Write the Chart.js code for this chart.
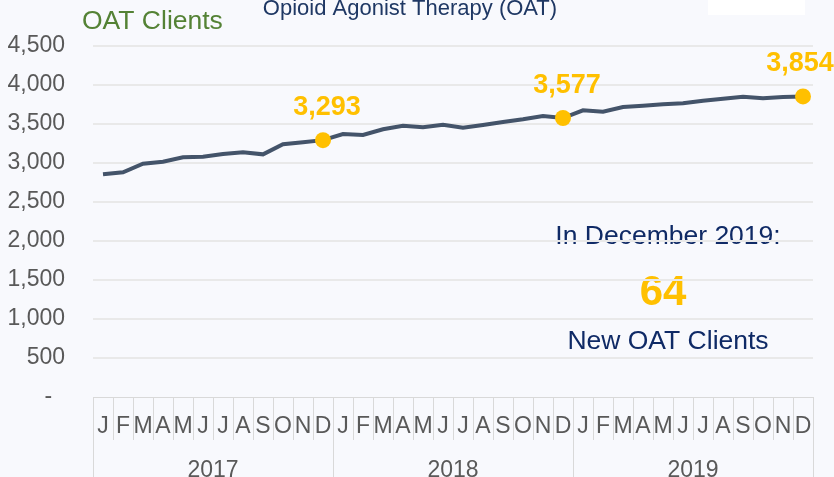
<!DOCTYPE html>
<html>
<head>
<meta charset="utf-8">
<script src="https://cdn.jsdelivr.net/npm/chart.js@4/dist/chart.umd.min.js"></script>
<style>
  html, body { margin: 0; padding: 0; background: #F8F9FD; }
  canvas { display: block; }
</style>
</head>
<body>
<canvas id="oatChart" width="834" height="477"></canvas>
<script>
const years = ['2017', '2018', '2019'];
const months = ['J', 'F', 'M', 'A', 'M', 'J', 'J', 'A', 'S', 'O', 'N', 'D'];
const oatClients = [
  2855, 2881, 2991, 3017, 3073, 3081, 3115, 3137, 3111, 3240, 3265, 3293,
  3372, 3359, 3432, 3478, 3458, 3491, 3452, 3487, 3526, 3560, 3602, 3577,
  3676, 3658, 3718, 3734, 3752, 3765, 3799, 3824, 3850, 3829, 3846, 3854,
];
const highlighted = [11, 23, 35];
const yTicks = [0, 500, 1000, 1500, 2000, 2500, 3000, 3500, 4000, 4500];
const newClientsMonth = 'December 2019';
const newClients = 64;

const labels = [];
years.forEach(y => months.forEach(m => labels.push(m + ' ' + y)));

const FONT = '"Liberation Sans", Arial, sans-serif';
const NAVY = '#1F3864';
const YELLOW = '#FFC000';
const GREY = '#595959';

// title, side label and the note are drawn first so the grid passes over them
const backText = {
  id: 'backText',
  beforeDraw(chart) {
    const ctx = chart.ctx;
    ctx.save();
    ctx.fillStyle = '#FFFFFF';
    ctx.fillRect(708, 0, 97, 15);

    ctx.textAlign = 'center';
    ctx.textBaseline = 'alphabetic';
    ctx.fillStyle = NAVY;
    ctx.font = '22px ' + FONT;
    ctx.fillText('Opioid Agonist Therapy (OAT)', 410, 15);

    ctx.textAlign = 'left';
    ctx.fillStyle = '#548235';
    ctx.font = '26.5px ' + FONT;
    ctx.fillText('OAT Clients', 82, 29);

    ctx.textAlign = 'center';
    ctx.fillStyle = '#0F2A66';
    ctx.font = '26.5px ' + FONT;
    ctx.fillText('In ' + newClientsMonth + ':', 668, 244);
    ctx.fillText('New OAT Clients', 668, 349);
    ctx.fillStyle = YELLOW;
    ctx.font = 'bold 42px ' + FONT;
    ctx.fillText(String(newClients), 663, 305);
    ctx.restore();
  },
};

// month / year boxes under the plot
const monthAxis = {
  id: 'monthAxis',
  afterDraw(chart) {
    const ctx = chart.ctx;
    const x = chart.scales.x;
    const top = chart.chartArea.bottom;
    const half = (x.getPixelForValue(1) - x.getPixelForValue(0)) / 2;
    ctx.save();
    ctx.strokeStyle = '#D9D9D9';
    ctx.lineWidth = 1;
    ctx.beginPath();
    ctx.moveTo(x.left, top + 0.5);
    ctx.lineTo(x.right + 1, top + 0.5);
    ctx.stroke();

    ctx.fillStyle = GREY;
    ctx.font = '23px ' + FONT;
    ctx.textAlign = 'center';
    labels.forEach((l, i) => {
      const cx = x.getPixelForValue(i);
      ctx.fillText(months[i % 12], cx, top + 36);
      if (i > 0 && i % 12 !== 0) {
        const lx = Math.round(cx - half) + 0.5;
        ctx.beginPath();
        ctx.moveTo(lx, top);
        ctx.lineTo(lx, top + 43);
        ctx.stroke();
      }
    });
    years.forEach((y, k) => {
      const x0 = x.getPixelForValue(k * 12) - half;
      const x1 = x.getPixelForValue(k * 12 + 11) + half;
      ctx.fillText(y, (x0 + x1) / 2, top + 80);
      [x0, x1].forEach(px => {
        ctx.beginPath();
        ctx.moveTo(Math.round(px) + 0.5, top);
        ctx.lineTo(Math.round(px) + 0.5, chart.height);
        ctx.stroke();
      });
    });
    ctx.restore();
  },
};

const pointLabels = {
  id: 'pointLabels',
  afterDatasetsDraw(chart) {
    const ctx = chart.ctx;
    const meta = chart.getDatasetMeta(0);
    ctx.save();
    ctx.fillStyle = YELLOW;
    ctx.font = 'bold 27px ' + FONT;
    ctx.textAlign = 'center';
    highlighted.forEach((i, k) => {
      const p = meta.data[i];
      const dx = k === highlighted.length - 1 ? -3 : 4;
      ctx.fillText(oatClients[i].toLocaleString('en-US'), p.x + dx, p.y - 25);
    });
    ctx.restore();
  },
};

new Chart(document.getElementById('oatChart'), {
  type: 'line',
  data: {
    labels: labels,
    datasets: [{
      data: oatClients,
      borderColor: '#44546A',
      borderWidth: 4,
      tension: 0,
      clip: false,
      pointRadius: c => highlighted.includes(c.dataIndex) ? 8 : 0,
      pointBackgroundColor: YELLOW,
      pointBorderColor: YELLOW,
      pointBorderWidth: 0,
    }],
  },
  options: {
    responsive: false,
    animation: false,
    devicePixelRatio: 1,
    layout: { padding: { top: 46, right: 21, bottom: 0, left: 0 } },
    plugins: { legend: { display: false }, tooltip: { enabled: false } },
    scales: {
      x: {
        offset: true,
        grid: { display: false },
        border: { display: false },
        ticks: { display: false },
        afterFit: s => { s.height = 80; },
      },
      y: {
        min: 0,
        max: 4500,
        afterBuildTicks: s => { s.ticks = yTicks.map(v => ({ value: v })); },
        afterFit: s => { s.width = 93; },
        border: { display: false },
        grid: {
          color: c => c.tick.value === 0 ? 'rgba(0,0,0,0)' : '#E9E9E9',
          lineWidth: 2,
          drawTicks: false,
        },
        ticks: {
          padding: 28,
          color: GREY,
          font: { family: FONT, size: 23 },
          callback: v => v === 0 ? '-  ' : v.toLocaleString('en-US'),
        },
      },
    },
  },
  plugins: [backText, monthAxis, pointLabels],
});
</script>
</body>
</html>
